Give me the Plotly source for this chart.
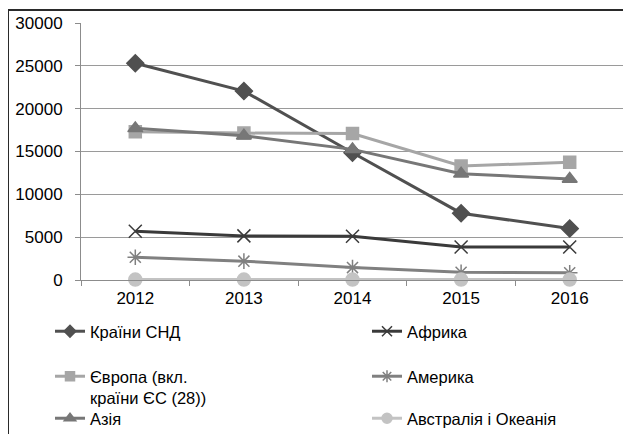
import plotly.graph_objects as go

years = ["2012", "2013", "2014", "2015", "2016"]
cis = [25300, 22050, 14850, 7800, 6000]
africa = [5700, 5150, 5100, 3850, 3850]
europe = [17300, 17150, 17100, 13300, 13750]
america = [2650, 2200, 1450, 900, 850]
asia = [17700, 16850, 15250, 12400, 11800]
australia = [50, 50, 50, 50, 50]

names = ["Країни СНД", "Африка", "Європа (вкл.<br>країни ЄС (28))",
         "Америка", "Азія", "Австралія і Океанія"]

series = [
    (names[0], cis, "#505050", "diamond", 13, 9, "legend"),
    (names[1], africa, "#3a3a3a", "x-thin-open", 13, 10, "legend"),
    (names[2], europe, "#a6a6a6", "square", 12, 9, "legend2"),
    (names[3], america, "#808080", "asterisk-open", 13, 10, "legend2"),
    (names[4], asia, "#777777", "triangle-up", 13, 10, "legend3"),
    (names[5], australia, "#c3c3c3", "circle", 13, 10, "legend3"),
]

W, H = 631, 434
# page body adds an 8px offset; positions below are figure pixels
PL, PR, PT, PB = 73, 616, 15, 272


def fx(px):
    return px / W


def fy(py):
    return 1 - py / H


fig = go.Figure()
# frame (outer border of the original picture), drawn as axis lines
fig.add_trace(go.Scatter(x=[None], y=[None], xaxis="x2", yaxis="y2",
                         showlegend=False, hoverinfo="skip"))
for name, vals, col, sym, sz, lsz, lg in series:
    fig.add_trace(go.Scatter(
        x=years, y=vals, name=name, mode="lines+markers", cliponaxis=False,
        line=dict(color=col, width=3), showlegend=False,
        marker=dict(symbol=sym, size=sz, color=col,
                    line=dict(color=col, width=1.5)),
    ))
# legend swatches (smaller markers, as in the reference)
for name, vals, col, sym, sz, lsz, lg in series:
    fig.add_trace(go.Scatter(
        x=[None], y=[None], name=name, mode="lines+markers", legend=lg,
        line=dict(color=col, width=3),
        marker=dict(symbol=sym, size=lsz, color=col,
                    line=dict(color=col, width=1.5)),
    ))

leg_common = dict(
    orientation="h", xanchor="left", yanchor="top",
    entrywidth=272, entrywidthmode="pixels", valign="top",
    font=dict(size=16.5), traceorder="normal", bgcolor="rgba(0,0,0,0)",
    itemsizing="trace",
)

frame_ax = dict(showline=True, linecolor="#2a2a2a", linewidth=1.5, ticks="",
                showticklabels=False, showgrid=False, zeroline=False,
                range=[0, 1], fixedrange=True, automargin=False)

fig.update_layout(
    width=W, height=H,
    margin=dict(l=0, r=0, t=0, b=0, autoexpand=False),
    paper_bgcolor="white", plot_bgcolor="rgba(0,0,0,0)",
    font=dict(family="Liberation Sans, Arial, sans-serif", size=17, color="#000000"),
    showlegend=True,
    legend=dict(x=fx(42), y=fy(306), **leg_common),
    legend2=dict(x=fx(42), y=fy(351), **leg_common),
    legend3=dict(x=fx(42), y=fy(393), **leg_common),
    xaxis=dict(
        domain=[fx(PL), fx(PR)],
        type="category", range=[-0.5, 4.5], showgrid=False, showline=True,
        linecolor="#8c8c8c", linewidth=1, ticks="outside", tickson="boundaries",
        ticklen=5, tickcolor="#8c8c8c", tickfont=dict(size=17), zeroline=False,
        ticklabelstandoff=3, automargin=False,
    ),
    yaxis=dict(
        domain=[fy(PB), fy(PT)],
        range=[0, 30000], dtick=5000, showgrid=True, gridcolor="#9a9a9a",
        gridwidth=1, showline=True, linecolor="#8c8c8c", linewidth=1,
        ticks="outside", ticklen=5, tickcolor="#8c8c8c", zeroline=False,
        tickfont=dict(size=17), tickformat="d", ticklabelstandoff=9,
        automargin=False,
    ),
    xaxis2=dict(domain=[fx(1), 1], anchor="y2", side="top", **frame_ax),
    yaxis2=dict(domain=[0, fy(3)], anchor="x2", side="left", **frame_ax),
)

fig.write_html("out.html")
